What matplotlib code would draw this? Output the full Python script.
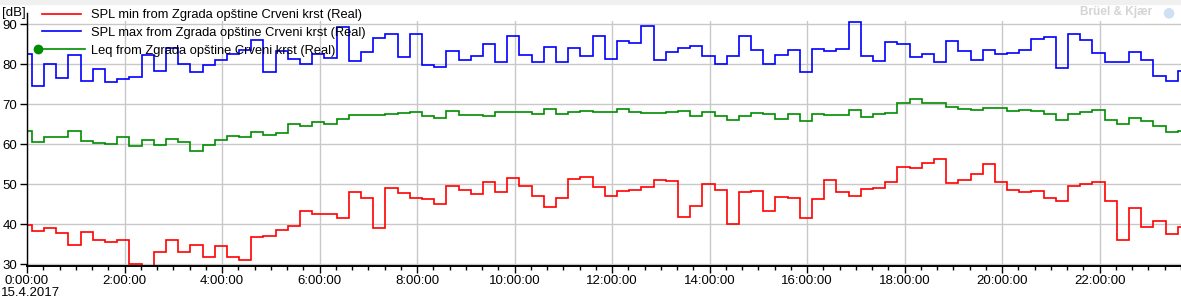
import numpy as np
import pandas as pd
import matplotlib
matplotlib.use('Agg')
import matplotlib.pyplot as plt
import matplotlib.dates as mdates
from matplotlib.lines import Line2D
from matplotlib.legend_handler import HandlerLine2D
from matplotlib.ticker import FuncFormatter, MultipleLocator


# 15 min intervals, first one starts 23:51 the day before
START = '2017-04-14 23:51:00'

spl_min = [39.75, 38.25, 39, 37.75, 34.75, 38, 36, 35.5, 36, 30,
           28, 33, 36, 33, 34.75, 31.75, 34.5, 31.75, 31, 36.75,
           37, 38.5, 39.5, 43.25, 42.5, 42.5, 41.5, 48, 46.5, 39,
           49, 47.75, 46.5, 46.25, 45, 49.5, 48.5, 47.5, 50.5, 48,
           51.5, 49.5, 47, 44.25, 46.5, 51.25, 51.75, 49.25, 47, 48.25,
           48.5, 49.25, 51, 50.75, 41.75, 44.5, 50, 48.5, 40, 48,
           48.25, 43.25, 46.75, 46.5, 41.5, 46.25, 51, 48, 47, 48.75,
           49, 50.5, 54.25, 54, 55.25, 56.25, 50.25, 51, 52.5, 55,
           50.5, 48.5, 48, 48.25, 46.5, 45.75, 49.5, 50, 50.5, 45.75,
           36, 44, 39.25, 40.75, 37.5, 39.25]

spl_max = [82.5, 74.5, 80, 76.5, 82.25, 75.75, 78.8, 75.5, 76.25, 76.75,
           82.25, 78.25, 84, 80, 78, 79.75, 81, 82.5, 83.5, 86,
           78, 83.25, 81.25, 80, 82.5, 81.5, 89.25, 80.75, 83, 86.5,
           87.5, 81.75, 87.5, 79.75, 79.25, 83.25, 81, 82, 85, 80.5,
           87, 82.25, 80.5, 84.25, 80.5, 84, 82, 87, 81.25, 85.75,
           85.25, 89.5, 81, 83, 84, 84.5, 82, 80, 82, 87,
           83.5, 80, 82.25, 83.5, 78, 83.75, 83.25, 83.75, 90.5, 82,
           80.75, 85.5, 85, 81.75, 82.5, 80.5, 85.75, 83.25, 81, 83.5,
           82.5, 82.75, 83.5, 86.25, 86.75, 79, 87.5, 86, 82.75, 80.5,
           80.5, 83, 81, 77, 75.75, 78.25]

leq = [63.25, 60.5, 61.75, 61.75, 63.25, 60.75, 60.25, 60, 61.75, 59.5,
       61, 59.75, 61.25, 60.5, 58.25, 59.75, 61, 62, 61.75, 63,
       62.25, 62.75, 65, 64.5, 65.5, 65, 66.25, 67.25, 67.25, 67.25,
       67.5, 67.75, 68, 67, 66.5, 68.25, 67.25, 67.25, 67, 68,
       68, 68, 67.5, 68.75, 67.5, 68, 68.25, 68, 68, 68.75,
       68, 67.75, 67.75, 68, 68.25, 67, 68, 67, 66, 67,
       67.75, 67.5, 66.25, 67.5, 65.75, 67.5, 67.25, 67.25, 68.5, 66.75,
       67.5, 67.75, 70.25, 71.25, 70.25, 70.25, 69.25, 68.75, 68.5, 69,
       69, 68.25, 68.5, 68.25, 67.5, 66, 67.5, 68, 68.5, 66,
       65, 66.5, 65.75, 64.5, 63, 63.25]

labels = ['SPL min from Zgrada opštine Crveni krst (Real)',
          'SPL max from Zgrada opštine Crveni krst (Real)',
          'Leq from Zgrada opštine Crveni krst (Real)']
colors = ['#ff0000', '#0000ff', '#008c00']

plt.rcParams['font.family'] = ['Liberation Sans', 'DejaVu Sans']


class LeftMarker(HandlerLine2D):
    # marker only on the left end of the legend line
    def create_artists(self, *args, **kwargs):
        arts = super().create_artists(*args, **kwargs)
        for a in arts:
            a.set_markevery([0])
        return arts


edges = pd.date_range(START, periods=len(leq) + 1, freq='15min')
x = mdates.date2num(edges.to_pydatetime())

fig = plt.figure(figsize=(11.81, 3.03), dpi=100)
fig.patches.append(plt.Rectangle((0, 0.987), 1, 0.013, transform=fig.transFigure,
                                 color='#f0f0f0', zorder=0))
ax = fig.add_axes([27 / 1181, 37 / 303, 1 - 27 / 1181, (266 - 21) / 303])

for vals, c in zip([spl_min, spl_max, leq], colors):
    ax.stairs(vals, x, color=c, lw=1.2, baseline=None)

day0 = mdates.date2num(pd.Timestamp('2017-04-15').to_pydatetime())
ax.set_xlim(day0, day0 + (23 + 40 / 60) / 24)
ax.set_ylim(29.575, 90.83)

ax.xaxis.set_major_locator(mdates.HourLocator(interval=2))
ax.xaxis.set_minor_locator(mdates.MinuteLocator(byminute=[0, 20, 40]))

def fmt(v, pos):
    d = mdates.num2date(v)
    return f'{d.hour}:{d.minute:02d}:{d.second:02d}'

ax.xaxis.set_major_formatter(FuncFormatter(fmt))
ax.yaxis.set_major_locator(MultipleLocator(10))

ax.grid(True, color='#c8c8c8', lw=1.0)
ax.set_axisbelow(True)
for s in ['top', 'right']:
    ax.spines[s].set_visible(False)
ax.spines['left'].set_bounds(29.575, 92.8)
ax.spines['left'].set_linewidth(1.0)
ax.spines['bottom'].set_linewidth(1.4)
ax.tick_params(axis='both', direction='out', labelsize=9.5, width=1.0, length=5, pad=2)
ax.tick_params(axis='x', which='minor', length=3, width=1.0)
ax.tick_params(axis='x', pad=1.5)

handles = [Line2D([], [], color=colors[0], lw=1.2),
           Line2D([], [], color=colors[1], lw=1.2),
           Line2D([], [], color=colors[2], lw=1.2, marker='o', ms=6)]
fig.legend(handles, labels, loc='upper left', bbox_to_anchor=(38 / 1181, 1 - 9 / 303),
           frameon=False, fontsize=9.3, handlelength=3.6, handletextpad=0.5,
           labelspacing=0.45, numpoints=2, borderaxespad=0, borderpad=0,
           handler_map={handles[2]: LeftMarker(marker_pad=0)})

fig.text(2 / 1181, 1 - 13 / 303, '[dB]', fontsize=9.5, va='center', ha='left')
fig.text(1 / 1181, 1 - 293 / 303, '15.4.2017', fontsize=9.5, va='center', ha='left')
fig.text(1116 / 1181, 1 - 12 / 303, 'Brüel & Kjær', fontsize=8.5, fontweight='bold',
         color='#d4d4d4', va='center', ha='center')
fig.text(1168 / 1181, 1 - 12 / 303, '●', fontsize=10, color='#cfe0f3',
         va='center', ha='center', family='DejaVu Sans')

fig.savefig('out.png', dpi=100)
